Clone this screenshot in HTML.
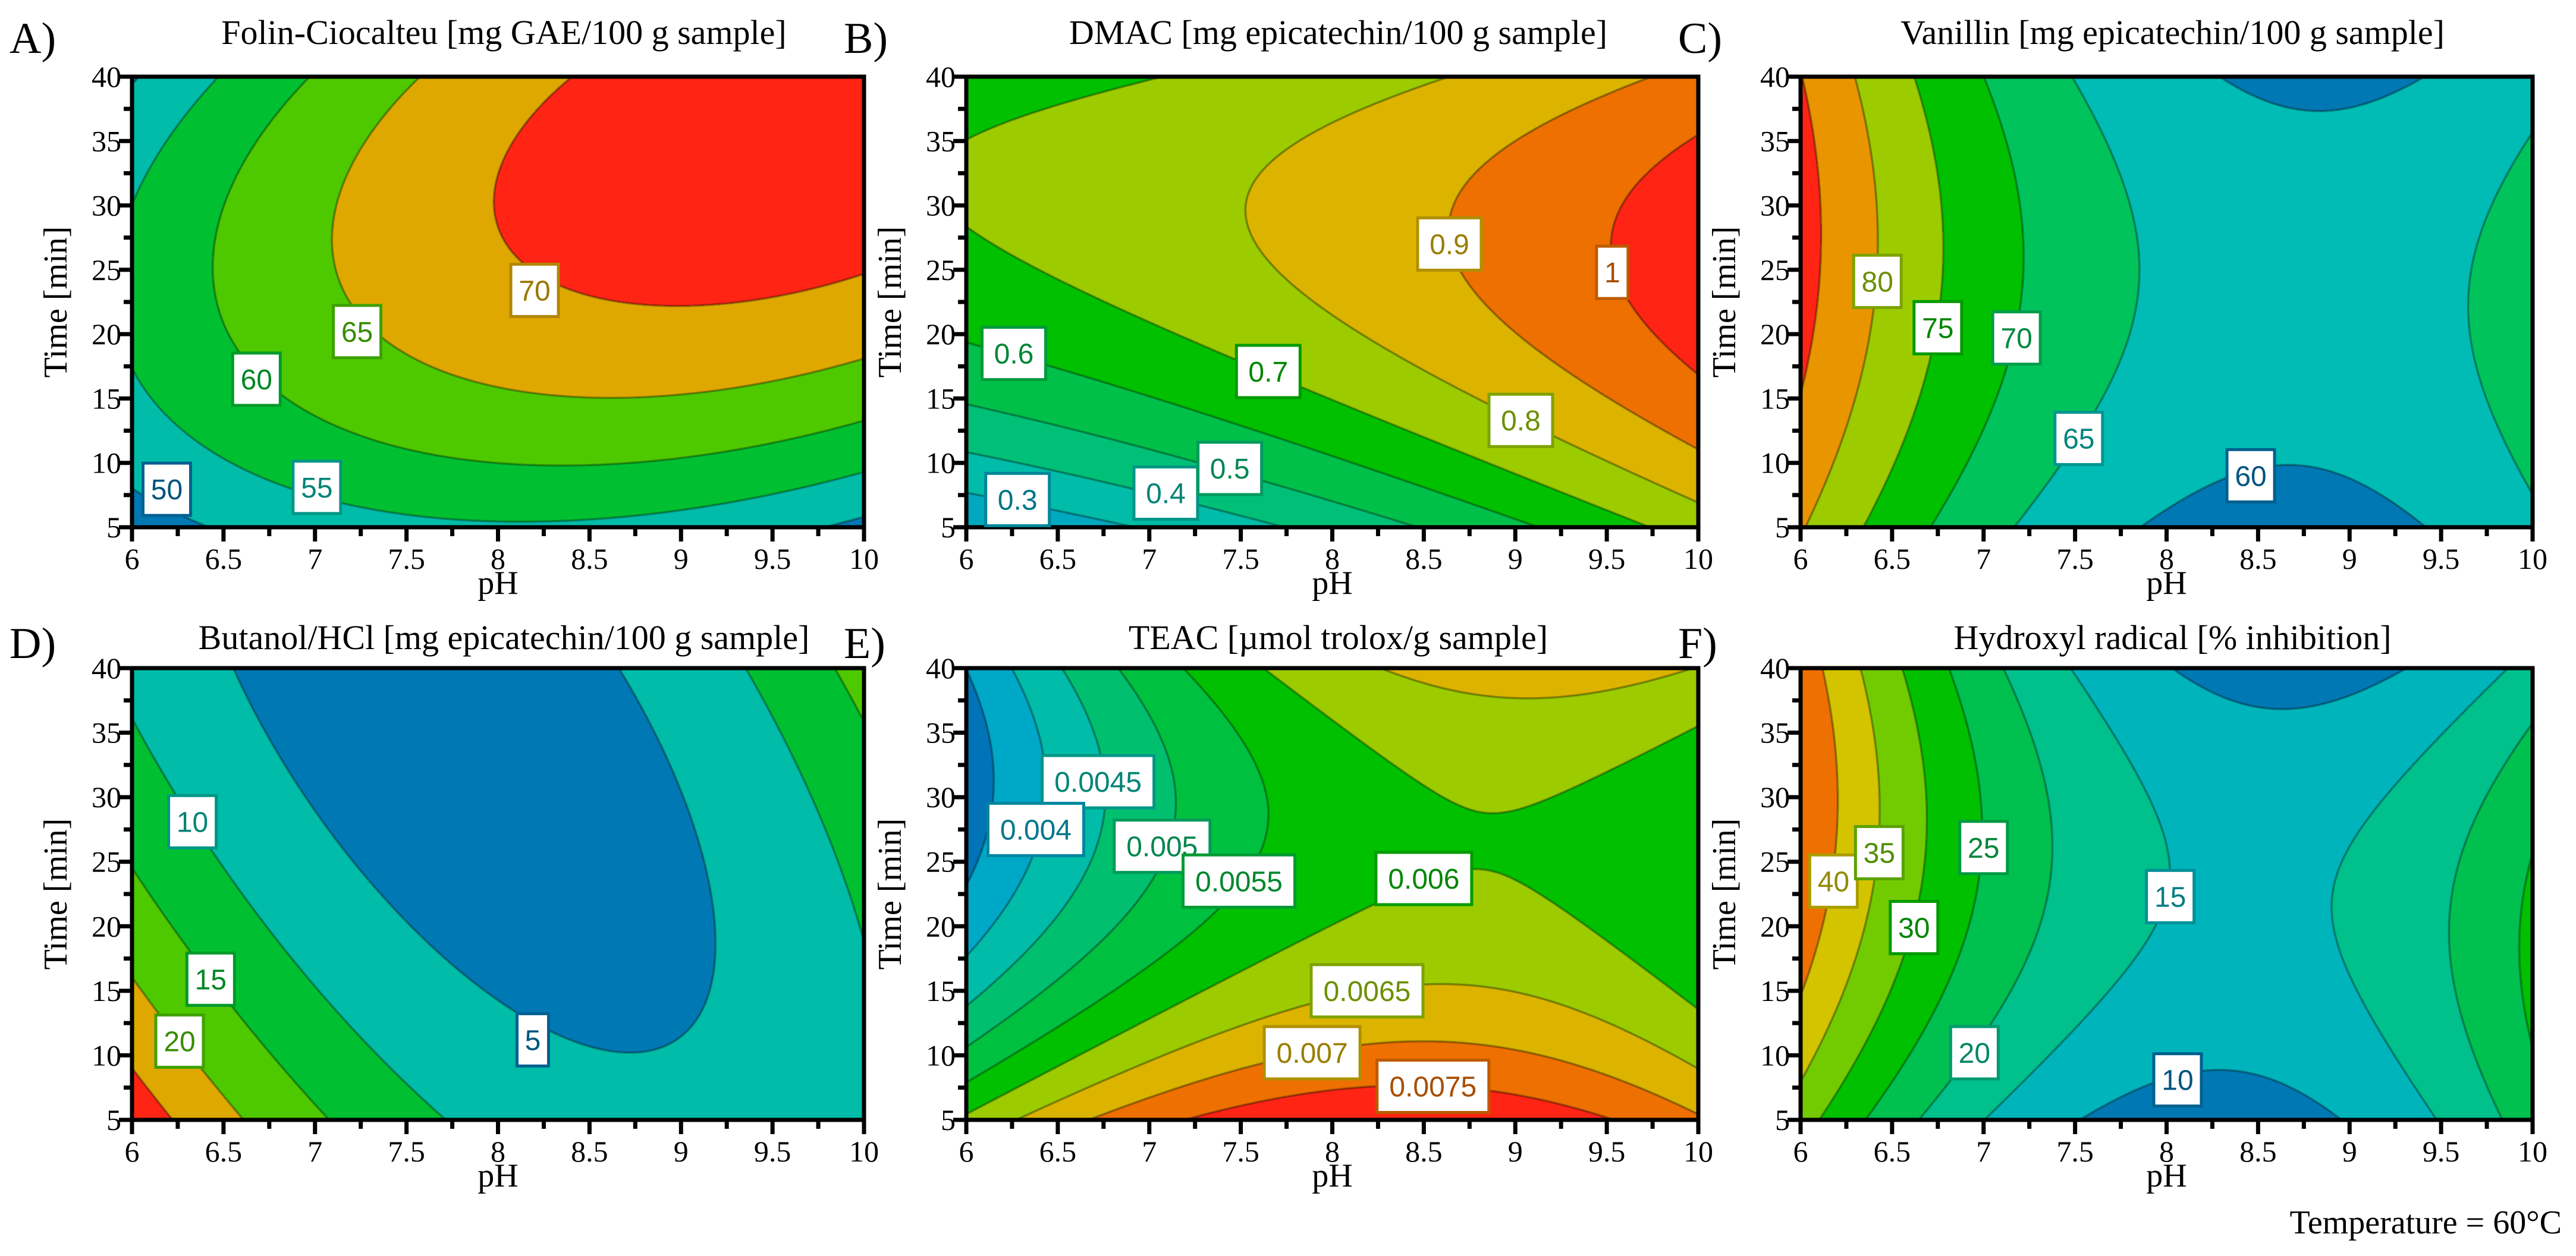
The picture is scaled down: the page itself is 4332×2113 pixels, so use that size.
<!DOCTYPE html>
<html><head><meta charset="utf-8"><title>Response surface contour plots</title>
<style>
html,body{margin:0;padding:0;background:#fff;}
#root{position:relative;width:4332px;height:2113px;overflow:hidden;background:#fff;}
canvas{position:absolute;display:block;}
#overlay{position:absolute;left:0;top:0;}
</style></head>
<body>
<div id="root">
<svg id="overlay" width="4332" height="2113" xmlns="http://www.w3.org/2000/svg"></svg>
</div>
<script>
// ---------- data (grid rows = pH 6, 8, 10; columns = time 5, 22.5, 40 min) ----------
const phTicks=[6,6.5,7,7.5,8,8.5,9,9.5,10];
const phTickLabels=['6','6.5','7','7.5','8','8.5','9','9.5','10'];
const timeTicks=[5,10,15,20,25,30,35,40];
const timeTickLabels=['5','10','15','20','25','30','35','40'];

const levelsA=[50,55,60,65,70];
const gridA=[[47.5,55.96,49.57],[54.48,68.6,67.85],[48.8,68.58,73.49]];
const labelTextA=['50','55','60','65','70'];
const labelPhA=[6.19,7.01,6.68,7.23,8.2];
const labelTimeA=[7.95,8.1,16.5,20.2,23.4];

const levelsB=[0.3,0.4,0.5,0.6,0.7,0.8,0.9,1.0];
const gridB=[[0.205,0.648,0.660],[0.4355,0.810,0.7537],[0.746,1.0515,0.927]];
const labelTextB=['0.3','0.4','0.5','0.6','0.7','0.8','0.9','1'];
const labelPhB=[6.28,7.09,7.44,6.26,7.65,9.03,8.64,9.53];
const labelTimeB=[7.15,7.65,9.57,18.5,17.1,13.3,27.0,24.8];

const levelsC=[60,65,70,75,80,85];
const gridC=[[80.43,86.58,85.14],[59.35,64.14,61.32],[64.02,67.44,63.26]];
const labelTextC=['80','75','70','65','60'];
const labelPhC=[6.42,6.75,7.18,7.52,8.46];
const labelTimeC=[24.1,20.5,19.7,11.9,9.0];

const levelsD=[5,10,15,20,25];
const gridD=[[28.17,16.07,8.79],[8.435,3.075,2.535],[9.3,10.68,16.88]];
const labelTextD=['10','15','20','5'];
const labelPhD=[6.33,6.43,6.26,8.19];
const labelTimeD=[28.1,15.9,11.1,11.2];

const levelsE=[0.0035,0.004,0.0045,0.005,0.0055,0.006,0.0065,0.007,0.0075];
const gridE=[[0.006093,0.003551,0.003508],[0.00791,0.005868,0.006325],[0.007067,0.005525,0.006482]];
const labelTextE=['0.0045','0.004','0.005','0.0055','0.006','0.0065','0.007','0.0075'];
const labelPhE=[6.72,6.38,7.07,7.49,8.5,8.19,7.89,8.55];
const labelTimeE=[31.2,27.5,26.2,23.5,23.7,15.0,10.2,7.6];

const levelsF=[10,15,20,25,30,35,40];
const gridF=[[32.18,43.64,43.04],[7.78,15.02,10.2],[22.71,25.72,16.68]];
const labelTextF=['40','35','30','25','20','15','10'];
const labelPhF=[6.18,6.43,6.62,7.0,6.95,8.02,8.06];
const labelTimeF=[23.5,25.7,19.9,26.1,10.2,22.3,8.1];

// ---------- styles ----------
const colorsA=['#0078b4','#00bca8','#00c032','#4ec900','#dfa800','#ff2414'];
const colorsB=['#00a8c0','#00bca8','#00c078','#00c04a','#00c000','#9ccc00','#dcb400','#ee7000','#ff2414'];
const colorsC=['#0078b4','#00bcb4','#00c35c','#00c000','#9ccc00','#e89500','#ff2414'];
const colorsD=['#0078b4','#00bca8','#00c032','#4ec900','#dfa800','#ff2414'];
const colorsE=['#0074b6','#00a8c8','#00bca8','#00c070','#00c040','#00c000','#9ccc00','#dcb400','#ee7000','#ff2414'];
const colorsF=['#0078b4','#00b4bc','#00c08c','#00c050','#00c000','#72cb00','#d4c400','#ee7000'];

const colLeft=[222,1625,3028];
const plotW=1231;
const rowTop=[129,1124];
const rowBot=[887,1884];
const titleOffset=[55,32];

const panels=[
 {id:'a',letter:'A)',title:'Folin-Ciocalteu [mg GAE/100 g sample]',col:0,row:0,grid:gridA,levels:levelsA,colors:colorsA,lt:labelTextA,lp:labelPhA,lm:labelTimeA},
 {id:'b',letter:'B)',title:'DMAC [mg epicatechin/100 g sample]',col:1,row:0,grid:gridB,levels:levelsB,colors:colorsB,lt:labelTextB,lp:labelPhB,lm:labelTimeB},
 {id:'c',letter:'C)',title:'Vanillin [mg epicatechin/100 g sample]',col:2,row:0,grid:gridC,levels:levelsC,colors:colorsC,lt:labelTextC,lp:labelPhC,lm:labelTimeC},
 {id:'d',letter:'D)',title:'Butanol/HCl [mg epicatechin/100 g sample]',col:0,row:1,grid:gridD,levels:levelsD,colors:colorsD,lt:labelTextD,lp:labelPhD,lm:labelTimeD},
 {id:'e',letter:'E)',title:'TEAC [\u00b5mol trolox/g sample]',col:1,row:1,grid:gridE,levels:levelsE,colors:colorsE,lt:labelTextE,lp:labelPhE,lm:labelTimeE},
 {id:'f',letter:'F)',title:'Hydroxyl radical [% inhibition]',col:2,row:1,grid:gridF,levels:levelsF,colors:colorsF,lt:labelTextF,lp:labelPhF,lm:labelTimeF}
];

const NS='http://www.w3.org/2000/svg';
const svg=document.getElementById('overlay');
const root=document.getElementById('root');

function hex(c){return [parseInt(c.substr(1,2),16),parseInt(c.substr(3,2),16),parseInt(c.substr(5,2),16)];}
function dark(c,k){const r=hex(c);return 'rgb('+Math.round(r[0]*k)+','+Math.round(r[1]*k)+','+Math.round(r[2]*k)+')';}
function mk(tag,attrs,parent){const e=document.createElementNS(NS,tag);for(const k in attrs)e.setAttribute(k,attrs[k]);(parent||svg).appendChild(e);return e;}

function lagr(u){return [u*(u-1)/2,1-u*u,u*(u+1)/2];}

panels.forEach(function(p){
  const left=colLeft[p.col], top=rowTop[p.row], bot=rowBot[p.row];
  const W=plotW, H=bot-top;
  const xPx=function(ph){return left+(ph-6)/4*W;};
  const yPx=function(t){return bot-(t-5)/35*H;};

  const cv=document.createElement('canvas');
  
  
  cv.width=W;cv.height=H;cv.style.left=left+'px';cv.style.top=top+'px';
  root.insertBefore(cv,svg);
  const ctx=cv.getContext('2d');
  const img=ctx.createImageData(W,H);
  const F=new Float32Array(W*H);
  const Lx=[],Ly=[];
  for(let i=0;i<W;i++)Lx.push(lagr(-1+2*i/(W-1)));
  for(let j=0;j<H;j++)Ly.push(lagr(1-2*j/(H-1)));
  const g=p.grid;
  for(let j=0;j<H;j++){const lv=Ly[j];
    for(let i=0;i<W;i++){const lu=Lx[i];let s=0;
      for(let a=0;a<3;a++)for(let b=0;b<3;b++)s+=g[a][b]*lu[a]*lv[b];
      F[j*W+i]=s;}}
  const cols=p.colors.map(hex);
  const lev=p.levels;
  for(let j=0;j<H;j++)for(let i=0;i<W;i++){
    const k=j*W+i,f=F[k];
    let band=0;while(band<lev.length&&f>=lev[band])band++;
    const gx=(F[j*W+Math.min(i+1,W-1)]-F[j*W+Math.max(i-1,0)])/((i>0&&i<W-1)?2:1);
    const gy=(F[Math.min(j+1,H-1)*W+i]-F[Math.max(j-1,0)*W+i])/((j>0&&j<H-1)?2:1);
    const gm=Math.sqrt(gx*gx+gy*gy)+1e-12;
    let d=1e9;
    if(band>0)d=Math.min(d,Math.abs(f-lev[band-1])/gm);
    if(band<lev.length)d=Math.min(d,Math.abs(f-lev[band])/gm);
    const c=cols[band];
    let r=c[0],gg=c[1],bb=c[2];
    const al=Math.max(0,Math.min(1,2.2-d))*0.7;
    if(al>0){r=r*(1-al)+r*0.45*al;gg=gg*(1-al)+gg*0.5*al;bb=bb*(1-al)+bb*0.5*al;}
    img.data[k*4]=r;img.data[k*4+1]=gg;img.data[k*4+2]=bb;img.data[k*4+3]=255;
  }
  ctx.putImageData(img,0,0);

  const frame=mk('rect',{x:left,y:top,width:W,height:H,fill:'none',stroke:'#000','stroke-width':7});
  
  

  for(let q=0;q<phTicks.length;q++){
    const x=xPx(phTicks[q]);
    const tk=mk('line',{x1:x,y1:bot,x2:x,y2:bot+24,stroke:'#000','stroke-width':7});
    
    
    const tl=mk('text',{x:x,y:bot+70,'text-anchor':'middle','font-family':'Liberation Serif, serif','font-size':50,fill:'#000'});
    
    
    tl.textContent=phTickLabels[q];
    if(q<phTicks.length-1){
      const xm=xPx((phTicks[q]+phTicks[q+1])/2);
      const mt=mk('line',{x1:xm,y1:bot,x2:xm,y2:bot+15,stroke:'#000','stroke-width':7});
      
      
    }
  }
  for(let q=0;q<timeTicks.length;q++){
    const y=yPx(timeTicks[q]);
    const tk=mk('line',{x1:left,y1:y,x2:left-22,y2:y,stroke:'#000','stroke-width':7});
    
    
    const tl=mk('text',{x:left-18,y:y+17,'text-anchor':'end','font-family':'Liberation Serif, serif','font-size':50,fill:'#000'});
    
    
    tl.textContent=timeTickLabels[q];
    if(q<timeTicks.length-1){
      const ym=yPx((timeTicks[q]+timeTicks[q+1])/2);
      const mt=mk('line',{x1:left,y1:ym,x2:left-14,y2:ym,stroke:'#000','stroke-width':7});
      
      
    }
  }
  const xt=mk('text',{x:left+W/2,y:bot+112,'text-anchor':'middle','font-family':'Liberation Serif, serif','font-size':56,fill:'#000'});
  
  
  xt.textContent='pH';
  const cy=top+H/2;
  const yt=mk('text',{x:left-110,y:cy,'text-anchor':'middle','font-family':'Liberation Serif, serif','font-size':56,fill:'#000',transform:'rotate(-90 '+(left-110)+' '+cy+')'});
  
  
  yt.textContent='Time [min]';
  const tt=mk('text',{x:left+W/2+10,y:top-titleOffset[p.row],'text-anchor':'middle','font-family':'Liberation Serif, serif','font-size':58,fill:'#000'});
  
  
  tt.textContent=p.title;
  const lt=mk('text',{x:left-206,y:top-titleOffset[p.row]+15,'font-family':'Liberation Serif, serif','font-size':74,fill:'#000'});
  
  
  lt.textContent=p.letter;

  for(let q=0;q<p.lt.length;q++){
    const val=parseFloat(p.lt[q]);
    let idx=0,best=1e9;
    for(let z=0;z<lev.length;z++){const dd=Math.abs(lev[z]-val);if(dd<best){best=dd;idx=z;}}
    const col=p.colors[idx];
    const cx=xPx(p.lp[q]),cyy=yPx(p.lm[q]);
    const bw=p.lt[q].length*27+26,bh=88;
    const grp=mk('g',{});
    
    
    mk('rect',{x:cx-bw/2,y:cyy-bh/2,width:bw,height:bh,fill:'#fff',stroke:dark(col,0.8),'stroke-width':5},grp);
    const tx=mk('text',{x:cx,y:cyy+17,'text-anchor':'middle','font-family':'Liberation Sans, sans-serif','font-size':48,fill:dark(col,0.7)},grp);
    tx.textContent=p.lt[q];
  }
});

const temp=mk('text',{x:4308,y:2075,'text-anchor':'end','font-family':'Liberation Serif, serif','font-size':56,fill:'#000'});


temp.textContent='Temperature = 60\u00b0C';
</script>
</body></html>
